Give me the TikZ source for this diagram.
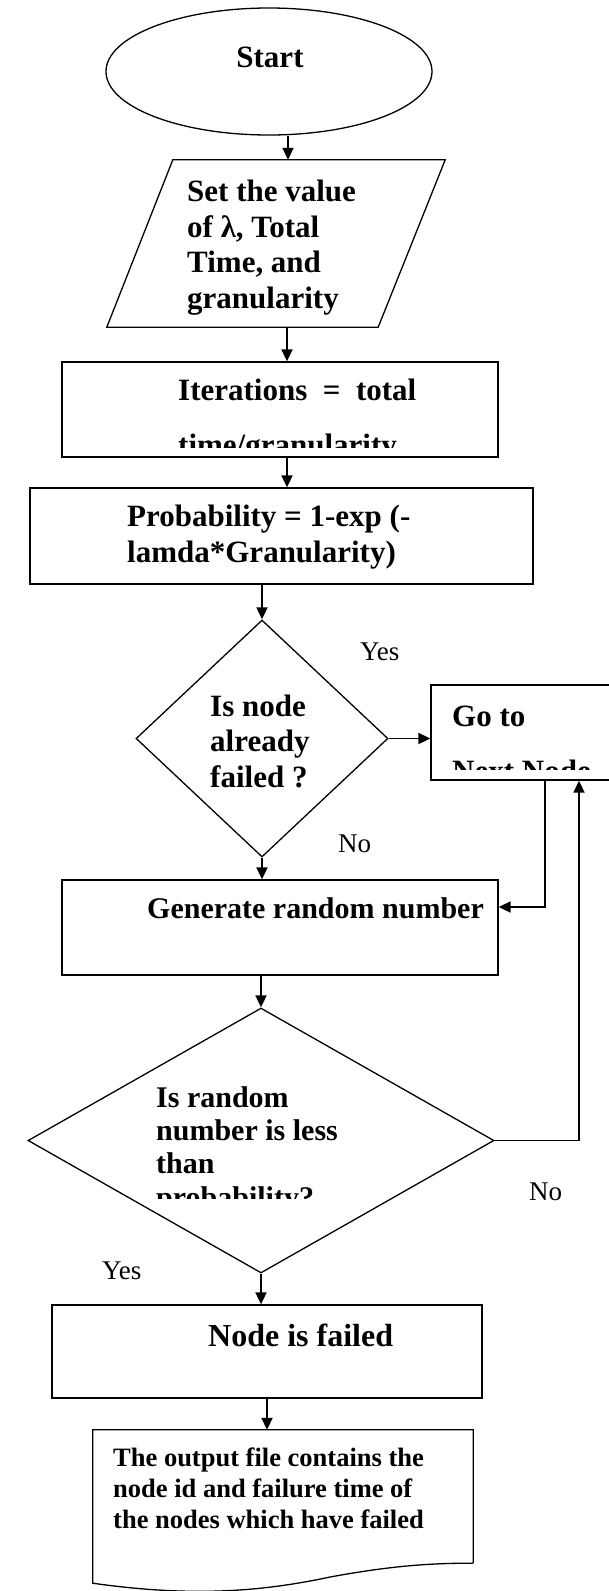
\documentclass[tikz,border=0pt]{standalone}
\usepackage{fontspec}
\setmainfont{Liberation Serif}
\usetikzlibrary{shapes.geometric}
\usetikzlibrary{arrows.meta}
\usetikzlibrary{calc}

\begin{document}
\begin{tikzpicture}[x=1pt,y=-1pt, % work in pixels, y grows downwards
	box/.style={draw, line width=1.3pt, rectangle, inner sep=0pt},
	txt/.style={inner sep=0pt, align=left, font=\bfseries\fontsize{31}{35.5}\selectfont},
	lbl/.style={inner sep=0pt, font=\fontsize{27}{30}\selectfont},
	arr/.style={line width=1.8pt, -{Triangle[length=12pt,width=11pt]}}]
	% Fix the page size
	\useasboundingbox (0,0) rectangle (609,1591);
	
	% Start oval
	\node[draw, line width=1.3pt, ellipse, minimum width=326pt, minimum height=127pt, inner sep=0pt] (start) at (269,71.5) {};
	\node[txt, anchor=base] (starttxt) at (270,67) {Start};
	
	% Input parallelogram (multi-line texts are placed by their last baseline)
	\node[inner sep=0pt, minimum width=338pt, minimum height=167pt] (setval) at (276,243.5) {};
	\draw[line width=1.3pt] ($(setval.north west)+(66,0)$) -- (setval.north east)
		-- ($(setval.south east)+(-67,0)$) -- (setval.south west) -- cycle;
	\node[txt, anchor=base west] (settxt) at (187,308) {Set the value\\of λ, Total\\Time, and\\granularity};
	
	% Iterations box (text cut at the bottom)
	\node[box, minimum width=436pt, minimum height=95pt] (iter) at (280,409.5) {};
	\begin{scope}
		\clip (iter.north west) rectangle ($(iter.south east)+(0,-10)$);
		\node[txt, anchor=base west] (itertxt) at (178,455) {Iterations\ \ =\ \ total\\[19.5pt]time/granularity};
	\end{scope}
	
	% Probability box
	\node[box, minimum width=503pt, minimum height=96pt] (prob) at (281.5,536) {};
	\node[txt, anchor=base west] (probtxt) at (127,562) {Probability = 1-exp (-\\lamda*Granularity)};
	
	% First decision
	\node[draw, line width=1.3pt, diamond, minimum width=252pt, minimum height=237pt, inner sep=0pt] (failq) at (262,738.5) {};
	\node[txt, anchor=base west] (failqtxt) at (210,787) {Is node\\already\\failed ?};
	\node[lbl, anchor=base west] (yes1) at (360,660) {Yes};
	\node[lbl, anchor=base west] (no1) at (338,852) {No};
	
	% Go to box, runs off the right edge
	\node[box, minimum width=181pt, minimum height=95pt] (goto) at (521.5,732.5) {};
	\begin{scope}
		\clip (goto.north west) rectangle ($(goto.south east)+(0,-11)$);
		\node[txt, anchor=base west] (gototxt) at (452,781) {Go to\\[19pt]Next Node};
	\end{scope}
	
	% Generate box
	\node[box, minimum width=436pt, minimum height=95pt] (gen) at (280,927.5) {};
	\node[txt, anchor=base west, font=\bfseries\fontsize{30}{34}\selectfont] (gentxt) at (147,918) {Generate random number};
	
	% Second decision (text cut at the bottom)
	\node[draw, line width=1.3pt, diamond, minimum width=466pt, minimum height=265pt, inner sep=0pt] (lessq) at (261,1140.5) {};
	\begin{scope}
		\clip (lessq.west |- lessq.north) rectangle ($(lessq.east)+(0,58)$);
		\node[txt, anchor=base west, font=\bfseries\fontsize{30}{33.3}\selectfont] (lessqtxt) at (156,1207) {Is random\\number is less\\than\\probability?};
	\end{scope}
	\node[lbl, anchor=base west] (no2) at (529,1200) {No};
	\node[lbl, anchor=base west] (yes2) at (102,1279) {Yes};
	
	% Node failed box
	\node[box, minimum width=430pt, minimum height=93pt] (failed) at (267,1351.5) {};
	\node[txt, anchor=base west, font=\bfseries\fontsize{32}{36}\selectfont] (failedtxt) at (208,1346) {Node is failed};
	
	% Output document with wavy bottom
	\node[inner sep=0pt, minimum width=380pt, minimum height=133pt] (out) at (283,1496.5) {};
	\draw[line width=1.3pt] (out.south east) |- (out.north west) -- ($(out.south west)+(0,20)$)
		.. controls (190,1597) and (260,1592) .. (330,1577)
		.. controls (390,1566) and (430,1563) .. (out.south east);
	\node[txt, anchor=base west, font=\bfseries\fontsize{26.5}{31}\selectfont] (outtxt) at (113,1528) {The output file contains the\\node id and failure time of\\the nodes which have failed};
	
	% Arrows down the chart
	\draw[arr] ([xshift=19pt]start.south) -- ([xshift=19pt]start.south |- setval.north);
	\draw[arr] ([xshift=11pt]setval.south) -- ([xshift=11pt]setval.south |- iter.north);
	\draw[arr] ([xshift=7pt]iter.south) -- ([xshift=7pt]iter.south |- prob.north);
	\draw[arr] (prob.south -| failq.north) -- (failq.north);
	\draw[arr] (failq.east) -- (failq.east -| goto.west);
	\draw[arr] (failq.south) -- (failq.south |- gen.north);
	\draw[arr] ([xshift=23.5pt]goto.south) |- ([yshift=20.5pt]gen.east);
	\draw[arr] (gen.south -| lessq.north) -- (lessq.north);
	\draw[arr] (lessq.east) -| ([xshift=57.5pt]goto.south);
	\draw[arr] (lessq.south) -- (lessq.south |- failed.north);
	\draw[arr] (failed.south) -- (failed.south |- out.north);
\end{tikzpicture}
\end{document}
